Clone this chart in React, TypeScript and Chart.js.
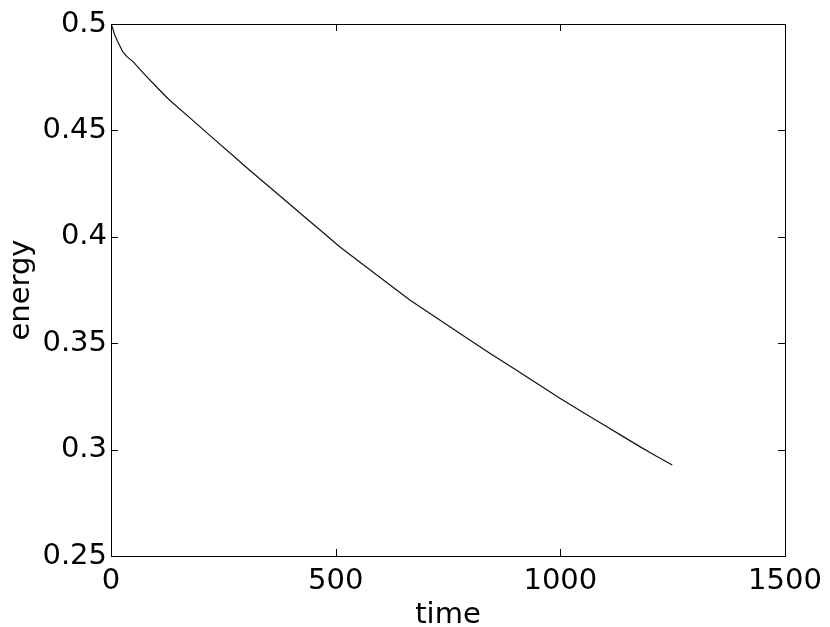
import React, { useEffect, useRef } from "react";
import { Chart, registerables } from "chart.js";

Chart.register(...registerables);

// time values (x) and energy values (y)
const timeValues: number[] = [
  0, 3, 8, 15, 20, 26, 35, 49, 75, 108, 130, 175, 225, 275, 308, 360, 410, 460,
  509, 560, 610, 665, 720, 780, 843, 900, 950, 999, 1050, 1100, 1140, 1177,
  1210, 1249,
];
const energyValues: number[] = [
  0.5, 0.4985, 0.495, 0.4917, 0.4895, 0.487, 0.4848, 0.4823, 0.4762, 0.469,
  0.4643, 0.456, 0.4467, 0.4375, 0.4314, 0.4221, 0.4131, 0.4041, 0.3953,
  0.3871, 0.3791, 0.3703, 0.3626, 0.3541, 0.3453, 0.3376, 0.3308, 0.3241,
  0.3176, 0.3112, 0.3061, 0.3014, 0.2973, 0.2928,
];

const xTicks: number[] = [0, 500, 1000, 1500];
const yTicks: number[] = [0.25, 0.3, 0.35, 0.4, 0.45, 0.5];
const xTitle = "time";
const yTitle = "energy";

const FONT = "'DejaVu Sans', 'Liberation Sans', Arial, sans-serif";
const FSIZE = 29;

const boxPlugin = {
  id: "matlabBox",
  afterDraw(chart: any) {
    const { ctx, chartArea } = chart;
    const { left, right, top, bottom } = chartArea;
    const xs = chart.scales.x;
    const ys = chart.scales.y;
    const tl = 7;
    ctx.save();
    ctx.strokeStyle = "#000";
    ctx.lineWidth = 1;
    ctx.beginPath();
    xs.ticks.forEach((t: any) => {
      const px = Math.round(xs.getPixelForValue(t.value)) + 0.5;
      if (px <= left + 1 || px >= right - 1) return;
      ctx.moveTo(px, bottom);
      ctx.lineTo(px, bottom - tl);
      ctx.moveTo(px, top);
      ctx.lineTo(px, top + tl);
    });
    ys.ticks.forEach((t: any) => {
      const py = Math.round(ys.getPixelForValue(t.value)) + 0.5;
      if (py <= top + 1 || py >= bottom - 1) return;
      ctx.moveTo(left, py);
      ctx.lineTo(left + tl, py);
      ctx.moveTo(right, py);
      ctx.lineTo(right - tl, py);
    });
    ctx.stroke();
    ctx.strokeRect(
      Math.round(left) + 0.5,
      Math.round(top) + 0.5,
      Math.round(right - left),
      Math.round(bottom - top)
    );
    ctx.restore();
  },
};

export default function App() {
  const canvasRef = useRef<HTMLCanvasElement | null>(null);

  useEffect(() => {
    document.body.style.margin = "0";
    const canvas = canvasRef.current;
    if (!canvas) return;
    const data = timeValues.map((t, i) => ({ x: t, y: energyValues[i] }));
    const chart = new Chart(canvas, {
      type: "scatter",
      data: {
        datasets: [
          {
            data,
            showLine: true,
            borderColor: "#111",
            borderWidth: 1.2,
            pointRadius: 0,
            tension: 0,
          },
        ],
      },
      options: {
        animation: false,
        responsive: false,
        maintainAspectRatio: false,
        layout: { padding: { left: 0, top: 24, right: 45, bottom: 0 } },
        plugins: {
          legend: { display: false },
          tooltip: { enabled: false },
        },
        scales: {
          x: {
            type: "linear",
            min: 0,
            max: 1500,
            afterBuildTicks: (axis: any) => {
              axis.ticks = xTicks.map((v) => ({ value: v }));
            },
            afterFit: (axis: any) => {
              axis.height = 71;
            },
            grid: { display: false, drawTicks: false },
            border: { display: false },
            ticks: {
              color: "#000",
              font: { family: FONT, size: FSIZE },
              padding: 8,
              maxRotation: 0,
              autoSkip: false,
              callback: (v: any) => String(v),
            },
            title: {
              display: true,
              text: xTitle,
              color: "#000",
              font: { family: FONT, size: FSIZE },
              padding: { top: 0, bottom: -6 },
            },
          },
          y: {
            type: "linear",
            min: 0.25,
            max: 0.5,
            afterBuildTicks: (axis: any) => {
              axis.ticks = yTicks.map((v) => ({ value: v }));
            },
            afterFit: (axis: any) => {
              axis.width = 111;
            },
            grid: { display: false, drawTicks: false },
            border: { display: false },
            ticks: {
              color: "#000",
              font: { family: FONT, size: FSIZE },
              padding: 4,
              autoSkip: false,
              callback: (v: any) => String(Math.round(v * 100) / 100),
            },
            title: {
              display: true,
              text: yTitle,
              color: "#000",
              font: { family: FONT, size: FSIZE },
              padding: { top: 4, bottom: 0 },
            },
          },
        },
      },
      plugins: [boxPlugin],
    });
    return () => chart.destroy();
  }, []);

  return (
    <div style={{ width: 830, height: 627, position: "relative" }}>
      <canvas ref={canvasRef} width={830} height={627} style={{ display: "block" }} />
    </div>
  );
}
